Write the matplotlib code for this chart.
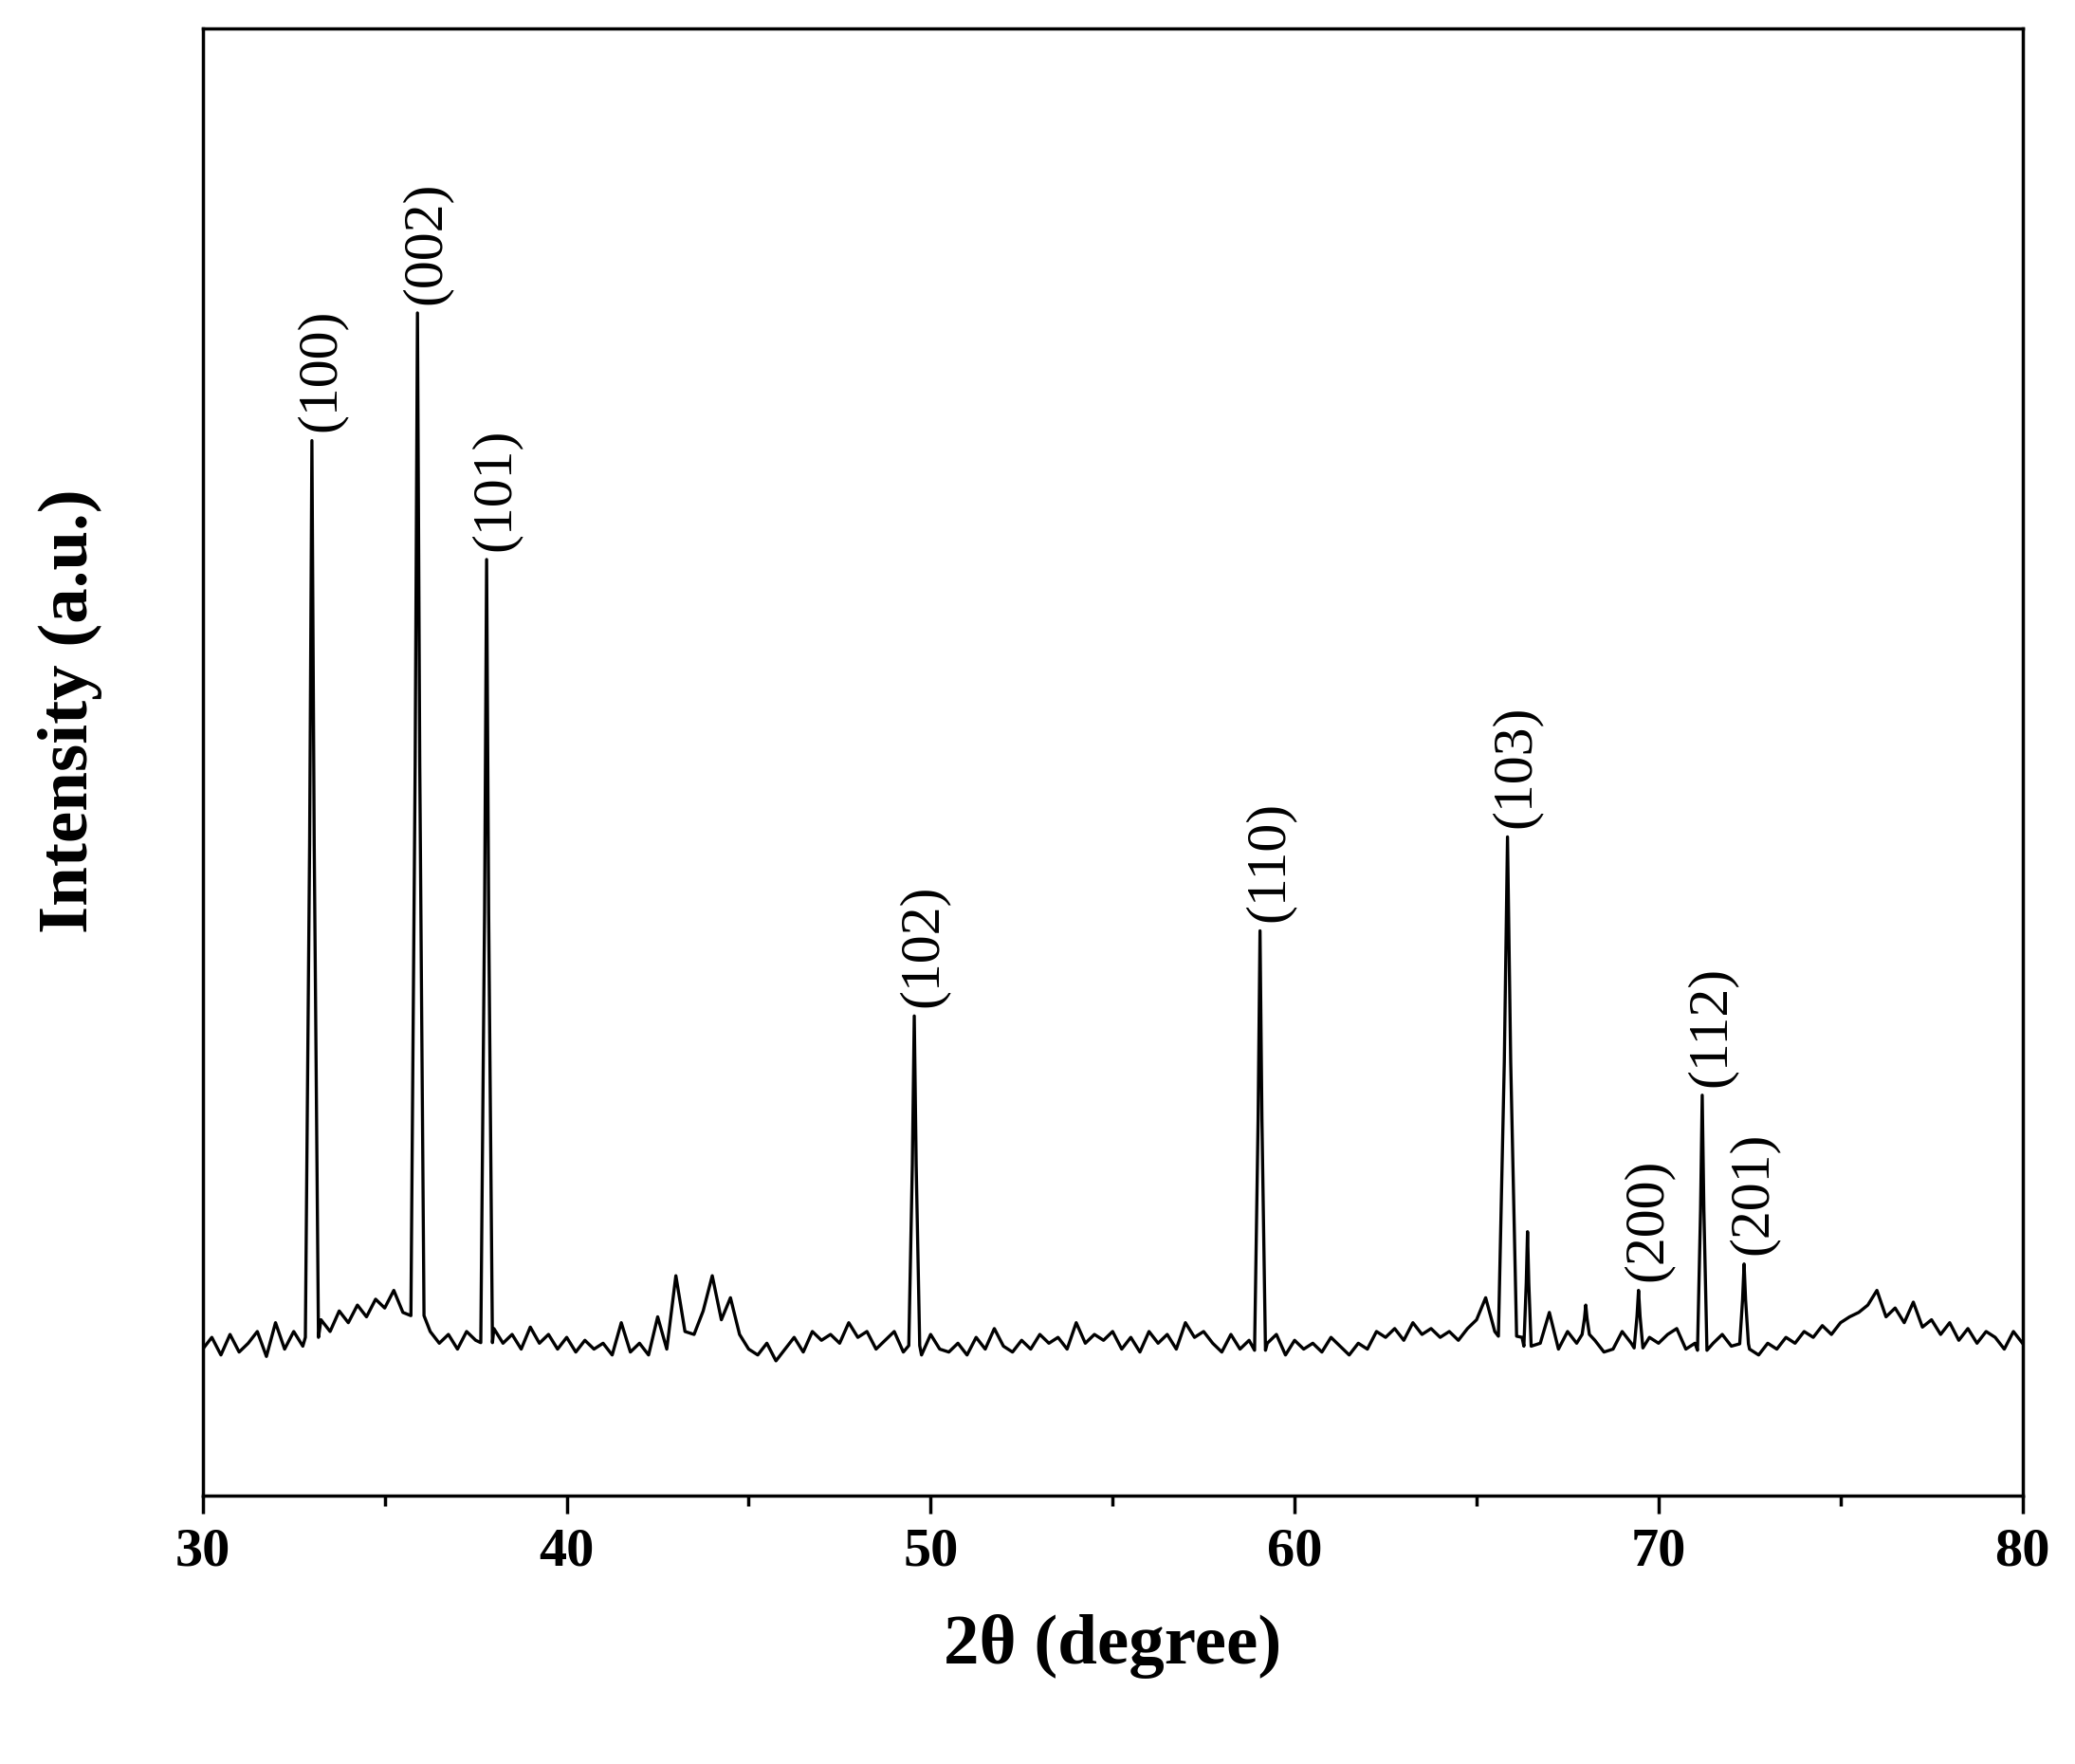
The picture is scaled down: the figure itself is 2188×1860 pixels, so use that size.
import numpy as np
import matplotlib
matplotlib.use("Agg")
import matplotlib.pyplot as plt

# baseline intensities at 0.25 degree steps, 30..80
base_x = [30 + 0.25 * i for i in range(201)]
base_y = [
 100,108, 96,110, 98,104,112, 95,118,100,112,102,  # 30-32.75
 108,120,112,126,118,130,122,134,128,140,125,130,  # 33-35.75
 118,112,104,110,100,112,106,102,114,104,110,100,  # 36-38.75
 115,104,110,100,108, 98,106,100,104, 96,118, 98,  # 39-41.75
 104, 96,122,100,150,112,110,126,150,120,135,110,  # 42-44.75
 100, 96,104, 92,100,108, 98,112,106,110,104,118,  # 45-47.75
 108,112,100,106,112, 98,104, 96,110,100, 98,104,  # 48-50.75
  96,108,100,114,102, 98,106,100,110,104,108,100,  # 51-53.75
 118,104,110,106,112,100,108, 98,112,104,110,100,  # 54-56.75
 118,108,112,104, 98,110,100,106, 98,104,110, 96,  # 57-59.75
 106,100,104, 98,108,102, 96,104,100,112,108,114,  # 60-62.75
 106,118,110,114,108,112,106,114,120,135,112,108,  # 63-65.75
 110,108, 98,104,125,100,112,104,110,106, 98,100,  # 66-68.75
 112,104,100,108,104,110,114,100,104, 98,104,110,  # 69-71.75
 102,106,100, 96,104,100,108,104,112,108,116,110,  # 72-74.75
 118,122,125,130,140,122,128,118,132,115,120,110,  # 75-77.75
 118,106,114,104,112,108,100,112,104,114,100,108,  # 78-80.75 (partial)
][:201]
while len(base_y) < 201:
    base_y.append(106)

# diffraction peaks: position, height, label
peak_pos = [33.0, 35.9, 37.8, 49.55, 59.05, 65.85, 66.4, 68.0, 69.45, 71.2, 72.35]
peak_h   = [719, 806, 638, 327, 385, 449, 180, 130, 140, 273, 158]
peak_lab = ["(100)", "(002)", "(101)", "(102)", "(110)", "(103)", None, None, "(200)", "(112)", "(201)"]
peak_w   = [0.18, 0.18, 0.16, 0.15, 0.15, 0.25, 0.1, 0.1, 0.12, 0.13, 0.12]

xs = list(base_x); ys = list(base_y)
for p, h, w in zip(peak_pos, peak_h, peak_w):
    b = np.interp(p, base_x, base_y)
    keep = [i for i in range(len(xs)) if abs(xs[i] - p) > w * 1.2]
    xs = [xs[i] for i in keep]; ys = [ys[i] for i in keep]
    xs += [p - w, p - w * 0.35, p, p + w * 0.35, p + w]
    ys += [b, b + (h - b) * 0.55, h, b + (h - b) * 0.55, b]
order = np.argsort(xs)
xs = np.array(xs)[order]; ys = np.array(ys)[order]

plt.rcParams['font.family'] = ['Liberation Serif', 'DejaVu Serif']
fig = plt.figure(figsize=(21.88, 18.60), dpi=100)
ax = fig.add_axes([0.0977, 0.152, 0.877, 0.832])
ax.plot(xs, ys, color='black', lw=2.4)
ax.set_xlim(30, 80)
ax.set_ylim(0, 1000)
ax.set_yticks([])
ax.set_xticks([30, 40, 50, 60, 70, 80])
ax.set_xticks([35, 45, 55, 65, 75], minor=True)
ax.tick_params(axis='x', which='major', length=14, width=2.5, labelsize=42, direction='out', pad=10)
ax.tick_params(axis='x', which='minor', length=8, width=2.5, direction='out')
for lbl in ax.get_xticklabels():
    lbl.set_fontweight('bold')
for s in ax.spines.values():
    s.set_linewidth(2.5)
ax.set_xlabel('2θ (degree)', fontsize=54, fontweight='bold', labelpad=28)
ax.set_ylabel('Intensity (a.u.)', fontsize=54, fontweight='bold')
ax.yaxis.set_label_coords(-0.055, 0.535)

for p, h, l in zip(peak_pos, peak_h, peak_lab):
    if l:
        ax.text(p + 0.25, h + 6, l, rotation=90, ha='center', va='bottom', fontsize=43)

fig.savefig('out.png', dpi=100)
